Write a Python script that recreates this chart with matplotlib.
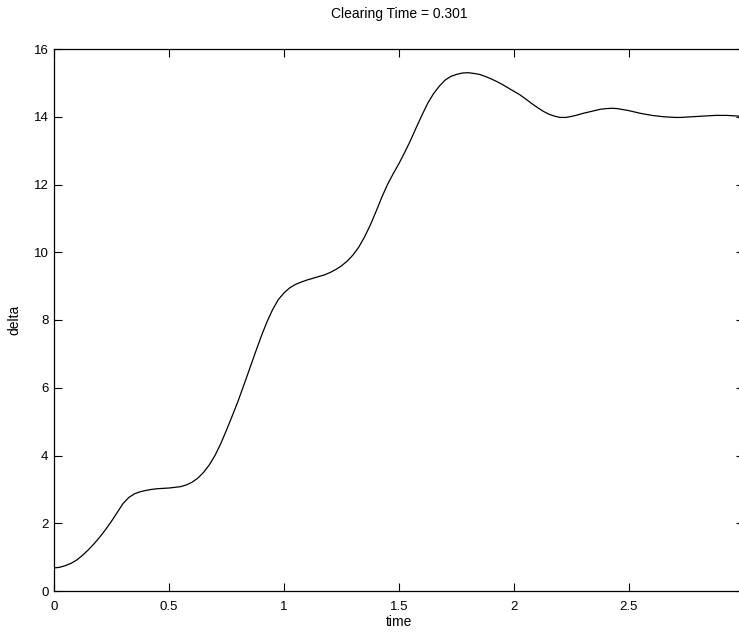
import matplotlib
matplotlib.use('Agg')
import matplotlib.pyplot as plt

# rotor angle swing after the fault is cleared, sampled every 0.025 s
time = [0.000, 0.025, 0.050, 0.075, 0.100, 0.125, 0.150, 0.175, 0.200, 0.225,
        0.250, 0.275, 0.300, 0.325, 0.350, 0.375, 0.400, 0.425, 0.450, 0.475,
        0.500, 0.525, 0.550, 0.575, 0.600, 0.625, 0.650, 0.675, 0.700, 0.725,
        0.750, 0.775, 0.800, 0.825, 0.850, 0.875, 0.900, 0.925, 0.950, 0.975,
        1.000, 1.025, 1.050, 1.075, 1.100, 1.125, 1.150, 1.175, 1.200, 1.225,
        1.250, 1.275, 1.300, 1.325, 1.350, 1.375, 1.400, 1.425, 1.450, 1.475,
        1.500, 1.525, 1.550, 1.575, 1.600, 1.625, 1.650, 1.675, 1.700, 1.725,
        1.750, 1.775, 1.800, 1.825, 1.850, 1.875, 1.900, 1.925, 1.950, 1.975,
        2.000, 2.025, 2.050, 2.075, 2.100, 2.125, 2.150, 2.175, 2.200, 2.225,
        2.250, 2.275, 2.300, 2.325, 2.350, 2.375, 2.400, 2.425, 2.450, 2.475,
        2.500, 2.525, 2.550, 2.575, 2.600, 2.625, 2.650, 2.675, 2.700, 2.725,
        2.750, 2.775, 2.800, 2.825, 2.850, 2.875, 2.900, 2.925, 2.950, 2.975,
        3.000]
delta = [0.68, 0.70, 0.75, 0.82, 0.92, 1.06, 1.22, 1.40, 1.60, 1.82,
         2.06, 2.32, 2.58, 2.76, 2.87, 2.93, 2.97, 3.00, 3.02, 3.03,
         3.04, 3.06, 3.08, 3.13, 3.21, 3.33, 3.50, 3.72, 4.00, 4.35,
         4.75, 5.17, 5.60, 6.07, 6.55, 7.03, 7.50, 7.93, 8.30, 8.60,
         8.80, 8.95, 9.05, 9.12, 9.18, 9.23, 9.28, 9.33, 9.40, 9.49,
         9.60, 9.74, 9.92, 10.15, 10.45, 10.80, 11.20, 11.62, 12.00, 12.32,
         12.62, 12.95, 13.30, 13.68, 14.05, 14.40, 14.68, 14.90, 15.08, 15.19,
         15.25, 15.29, 15.30, 15.28, 15.25, 15.19, 15.12, 15.04, 14.95, 14.85,
         14.75, 14.65, 14.53, 14.40, 14.28, 14.17, 14.08, 14.02, 13.98, 13.98,
         14.01, 14.05, 14.10, 14.14, 14.18, 14.22, 14.24, 14.25, 14.24, 14.21,
         14.18, 14.14, 14.10, 14.07, 14.04, 14.02, 14.00, 13.99, 13.98, 13.98,
         13.99, 14.00, 14.01, 14.02, 14.03, 14.04, 14.04, 14.04, 14.03, 14.02,
         14.01]
clearing_time = 0.301

xticks = [0, 0.5, 1, 1.5, 2, 2.5, 3]
xticklabels = ['0', '0.5', '1', '1.5', '2', '2.5', '3']
yticks = [0, 2, 4, 6, 8, 10, 12, 14, 16]

plt.rcParams['font.family'] = ['Liberation Sans', 'DejaVu Sans']

fig = plt.figure(figsize=(7.39, 6.33), dpi=100)
ax = fig.add_axes([54 / 739, 1 - 591 / 633, 690 / 739, 542 / 633])
ax.plot(time, delta, color='black', linewidth=0.9)

ax.set_xlim(0, 3)
ax.set_ylim(0, 16)
ax.set_xticks(xticks)
ax.set_xticklabels(xticklabels)
ax.set_yticks(yticks)
ax.tick_params(direction='in', length=6, width=0.8, top=True, right=True,
               labelsize=9.5)
ax.tick_params(axis='x', pad=7)
ax.tick_params(axis='y', pad=4)
for s in ax.spines.values():
    s.set_linewidth(0.9)

ax.set_title('Clearing Time = %.3f' % clearing_time, fontsize=10, pad=22)
ax.set_xlabel('time', fontsize=10, labelpad=2)
ax.set_ylabel('delta', fontsize=10, labelpad=9)

fig.savefig('out.png', dpi=100)
